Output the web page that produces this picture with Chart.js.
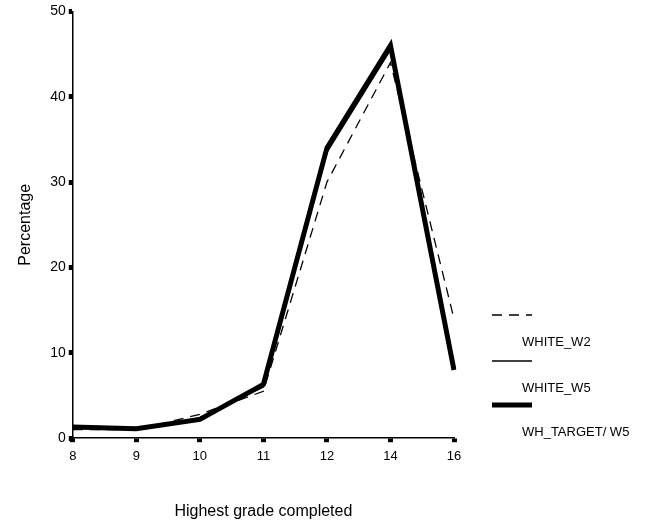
<!DOCTYPE html>
<html>
<head>
<meta charset="utf-8">
<script src="https://cdn.jsdelivr.net/npm/chart.js@4/dist/chart.umd.min.js"></script>
<style>
  html, body { margin: 0; padding: 0; background: #fff; }
  #wrap { width: 649px; height: 524px; position: relative; }
</style>
</head>
<body>
<div id="wrap"><canvas id="gradeChart" width="649" height="524"></canvas></div>
<script>
// Highest grade completed - percentage by wave
const grades = ['8', '9', '10', '11', '12', '14', '16'];
const whiteW2 = [1.0, 1.0, 2.8, 5.5, 30, 44, 14];
const whiteW5 = [1.2, 1.0, 2.4, 6.0, 33.5, 45.5, 8.5];
const whTargetW5 = [1.3, 1.1, 2.2, 6.3, 34, 46, 8];
const yTicks = [0, 10, 20, 30, 40, 50];

const FONT = '"Liberation Sans", Arial, Helvetica, sans-serif';

// legend drawn to the right of the plot: line sample above, label below
const sideLegend = {
  id: 'sideLegend',
  afterDraw(chart) {
    const ctx = chart.ctx;
    const area = chart.chartArea;
    const x0 = area.right + 38;
    const rowY = [315, 361, 405];
    ctx.save();
    chart.data.datasets.forEach((ds, i) => {
      ctx.beginPath();
      ctx.strokeStyle = '#000';
      ctx.lineWidth = ds.borderWidth;
      ctx.setLineDash(ds.borderDash || []);
      ctx.moveTo(x0, rowY[i]);
      ctx.lineTo(x0 + 40, rowY[i]);
      ctx.stroke();
      ctx.setLineDash([]);
      ctx.fillStyle = '#000';
      ctx.font = '13px ' + FONT;
      ctx.textBaseline = 'middle';
      ctx.textAlign = 'left';
      ctx.fillText(ds.label, x0 + 30, rowY[i] + 27);
    });
    ctx.restore();
  }
};

const ctx = document.getElementById('gradeChart').getContext('2d');
new Chart(ctx, {
  type: 'line',
  data: {
    labels: grades,
    datasets: [
      { label: 'WHITE_W2', data: whiteW2, borderColor: '#000', borderWidth: 1.3, borderDash: [10, 7], pointRadius: 0, tension: 0 },
      { label: 'WHITE_W5', data: whiteW5, borderColor: '#000', borderWidth: 1.5, pointRadius: 0, tension: 0 },
      { label: 'WH_TARGET/ W5', data: whTargetW5, borderColor: '#000', borderWidth: 5, pointRadius: 0, tension: 0 }
    ]
  },
  options: {
    responsive: false,
    animation: false,
    layout: { padding: { top: 9, right: 195, left: 16, bottom: 3 } },
    plugins: { legend: { display: false }, tooltip: { enabled: false } },
    scales: {
      x: {
        offset: false,
        border: { color: '#000', width: 1.5 },
        grid: { drawOnChartArea: false, tickLength: 4, tickWidth: 5, tickColor: '#000' },
        ticks: { color: '#000', font: { family: FONT, size: 13 }, padding: 6, maxRotation: 0 },
        title: { display: true, text: 'Highest grade completed', color: '#000', font: { family: FONT, size: 16 }, padding: { top: 32, bottom: 0 } }
      },
      y: {
        min: 0, max: 50,
        afterBuildTicks(scale) { scale.ticks = yTicks.map(v => ({ value: v })); },
        border: { color: '#000', width: 1.5 },
        grid: { drawOnChartArea: false, tickLength: 4, tickWidth: 5, tickColor: '#000' },
        ticks: { color: '#000', font: { family: FONT, size: 14 }, padding: 3 },
        title: { display: true, text: 'Percentage', color: '#000', font: { family: FONT, size: 16 }, padding: { top: 0, bottom: 12 } }
      }
    }
  },
  plugins: [sideLegend]
});
</script>
</body>
</html>
